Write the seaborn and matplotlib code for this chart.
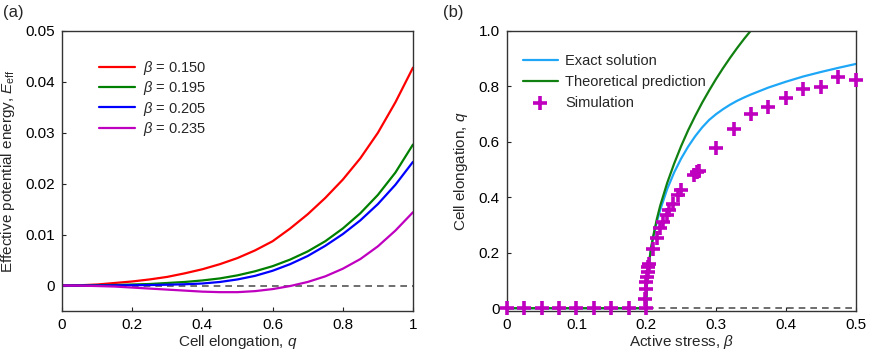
import numpy as np
import pandas as pd
import matplotlib
matplotlib.use('Agg')
import matplotlib.pyplot as plt
import seaborn as sns

sns.set_theme(style='white')
plt.rcParams['font.family'] = ['Liberation Sans', 'DejaVu Sans']
plt.rcParams['mathtext.fontset'] = 'custom'
plt.rcParams['mathtext.it'] = 'Liberation Sans:italic'
plt.rcParams['mathtext.rm'] = 'Liberation Sans'

# (a) 有效势能曲线
q_grid = [0, 0.05, 0.1, 0.15, 0.2, 0.25, 0.3, 0.35, 0.4, 0.45, 0.5,
          0.55, 0.6, 0.65, 0.7, 0.75, 0.8, 0.85, 0.9, 0.95, 1.0]
E_150 = [0, 0.00005, 0.0002, 0.0005, 0.0008, 0.0012, 0.0017, 0.0024, 0.0032, 0.0042, 0.0054,
         0.0069, 0.0087, 0.0112, 0.0140, 0.0172, 0.0208, 0.0250, 0.0300, 0.0360, 0.0428]
E_195 = [0, 0, 0.00005, 0.0001, 0.0002, 0.0003, 0.0005, 0.0007, 0.0010, 0.0014, 0.0020,
         0.0028, 0.0038, 0.0051, 0.0067, 0.0087, 0.0112, 0.0142, 0.0178, 0.0222, 0.0277]
E_205 = [0, 0, 0, 0.00003, 0.00006, 0.0001, 0.00016, 0.00025, 0.0004, 0.0007, 0.0012,
         0.0019, 0.0029, 0.0042, 0.0058, 0.0078, 0.0101, 0.0128, 0.0160, 0.0198, 0.0243]
E_235 = [0, -0.00002, -0.0001, -0.0002, -0.0004, -0.0006, -0.0008, -0.0010, -0.0012, -0.0013, -0.0013,
         -0.0011, -0.0007, -0.0001, 0.0007, 0.0018, 0.0033, 0.0052, 0.0077, 0.0108, 0.0144]
beta_labels = ['0.150', '0.195', '0.205', '0.235']
curve_colors = ['red', 'green', 'blue', '#bf00bf']

# (b) 伸长率 vs 主动应力
beta_exact = [0, 0.2, 0.2005, 0.201, 0.202, 0.204, 0.207, 0.21, 0.215, 0.22, 0.23, 0.24, 0.25,
              0.26, 0.27, 0.28, 0.29, 0.30, 0.31, 0.32, 0.33, 0.34, 0.35,
              0.375, 0.40, 0.425, 0.45, 0.475, 0.50]
q_exact = [0, 0, 0.06, 0.085, 0.12, 0.165, 0.215, 0.255, 0.31, 0.355, 0.43, 0.49, 0.54,
           0.583, 0.62, 0.652, 0.679, 0.700, 0.718, 0.734, 0.748, 0.760, 0.771,
           0.796, 0.817, 0.836, 0.852, 0.867, 0.881]
beta_theory = [0, 0.2, 0.2005, 0.201, 0.202, 0.204, 0.207, 0.21, 0.215, 0.22, 0.23, 0.24, 0.25,
               0.26, 0.27, 0.28, 0.29, 0.30, 0.31, 0.32, 0.33, 0.34, 0.35, 0.36]
q_theory = [0, 0, 0.06, 0.085, 0.12, 0.165, 0.22, 0.26, 0.32, 0.37, 0.452, 0.522, 0.585,
            0.642, 0.693, 0.741, 0.785, 0.827, 0.866, 0.903, 0.938, 0.971, 1.002, 1.033]
beta_sim = [0, 0.025, 0.05, 0.075, 0.1, 0.125, 0.15, 0.175, 0.2, 0.198, 0.199, 0.2, 0.201, 0.202,
            0.203, 0.204, 0.21, 0.215, 0.22, 0.224, 0.229, 0.233, 0.238, 0.246, 0.25, 0.269,
            0.272, 0.275, 0.3, 0.325, 0.35, 0.375, 0.4, 0.425, 0.45, 0.475, 0.5]
q_sim = [0, 0, 0, 0, 0, 0, 0, 0, 0, 0.035, 0.071, 0.095, 0.113, 0.131,
         0.147, 0.161, 0.212, 0.255, 0.288, 0.312, 0.336, 0.356, 0.375, 0.408, 0.426, 0.48,
         0.49, 0.495, 0.579, 0.646, 0.699, 0.727, 0.759, 0.791, 0.797, 0.835, 0.823]

fig = plt.figure(figsize=(8.72, 3.51), dpi=100)
ax1 = fig.add_axes([0.0711, 0.114, 0.4025, 0.7977])
ax2 = fig.add_axes([0.581, 0.114, 0.4003, 0.7977])

# 面板 (a)
ax1.axhline(0, color='#555555', lw=1.2, ls=(0, (4, 3)), zorder=1)
for E, lab, c in zip([E_150, E_195, E_205, E_235], beta_labels, curve_colors):
    sns.lineplot(x=q_grid, y=E, ax=ax1, color=c, lw=1.6, label=r'$\beta$ = ' + lab,
                 sort=False, estimator=None)
ax1.set_xlim(0, 1)
ax1.set_ylim(-0.005, 0.05)
ax1.set_xticks([0, 0.2, 0.4, 0.6, 0.8, 1])
ax1.set_xticklabels(['0', '0.2', '0.4', '0.6', '0.8', '1'])
ax1.set_yticks([0, 0.01, 0.02, 0.03, 0.04, 0.05])
ax1.set_yticklabels(['0', '0.01', '0.02', '0.03', '0.04', '0.05'])
ax1.set_xlabel('Cell elongation, $q$', fontsize=11, labelpad=1)
ax1.set_ylabel(r'Effective potential energy, $E_{\mathrm{eff}}$', fontsize=11, labelpad=6)
ax1.legend(loc='upper left', bbox_to_anchor=(0.088, 0.92), frameon=False, fontsize=10.5,
           handlelength=2.5, labelspacing=0.15, handletextpad=0.55, borderaxespad=0)

# 面板 (b)
ax2.axhline(0, color='#555555', lw=1.2, ls=(0, (4, 3)), zorder=1)
sns.lineplot(x=beta_exact, y=q_exact, ax=ax2, color='#1ea7f7', lw=1.6, label='Exact solution',
             sort=False, estimator=None)
sns.lineplot(x=beta_theory, y=q_theory, ax=ax2, color='#108010', lw=1.6,
             label='Theoretical prediction', sort=False, estimator=None)
sns.scatterplot(x=beta_sim, y=q_sim, ax=ax2, marker='+', s=110, color='#bf00bf',
                linewidth=2.6, label='Simulation', zorder=5, clip_on=False)
ax2.set_xlim(0, 0.5)
ax2.set_ylim(-0.01, 1.0)
ax2.set_xticks([0, 0.1, 0.2, 0.3, 0.4, 0.5])
ax2.set_xticklabels(['0', '0.1', '0.2', '0.3', '0.4', '0.5'])
ax2.set_yticks([0, 0.2, 0.4, 0.6, 0.8, 1.0])
ax2.set_yticklabels(['0', '0.2', '0.4', '0.6', '0.8', '1.0'])
ax2.set_xlabel(r'Active stress, $\beta$', fontsize=11, labelpad=1)
ax2.set_ylabel('Cell elongation, $q$', fontsize=11, labelpad=6)
ax2.legend(loc='upper left', bbox_to_anchor=(0.03, 0.937), frameon=False, fontsize=10.5,
           handlelength=2.4, labelspacing=0.45, handletextpad=0.5, borderaxespad=0)

for ax in (ax1, ax2):
    ax.tick_params(direction='in', length=3, width=0.8, labelsize=11, pad=5,
                   bottom=True, left=True, top=False, right=False, colors='#222222')
    ax.tick_params(labelcolor='black')
    for sp in ax.spines.values():
        sp.set_color('#333333')
        sp.set_linewidth(1.0)

fig.text(0.004, 0.965, '(a)', fontsize=12, va='center', ha='left')
fig.text(0.508, 0.965, '(b)', fontsize=12, va='center', ha='left')

fig.savefig('out.png', dpi=100)
